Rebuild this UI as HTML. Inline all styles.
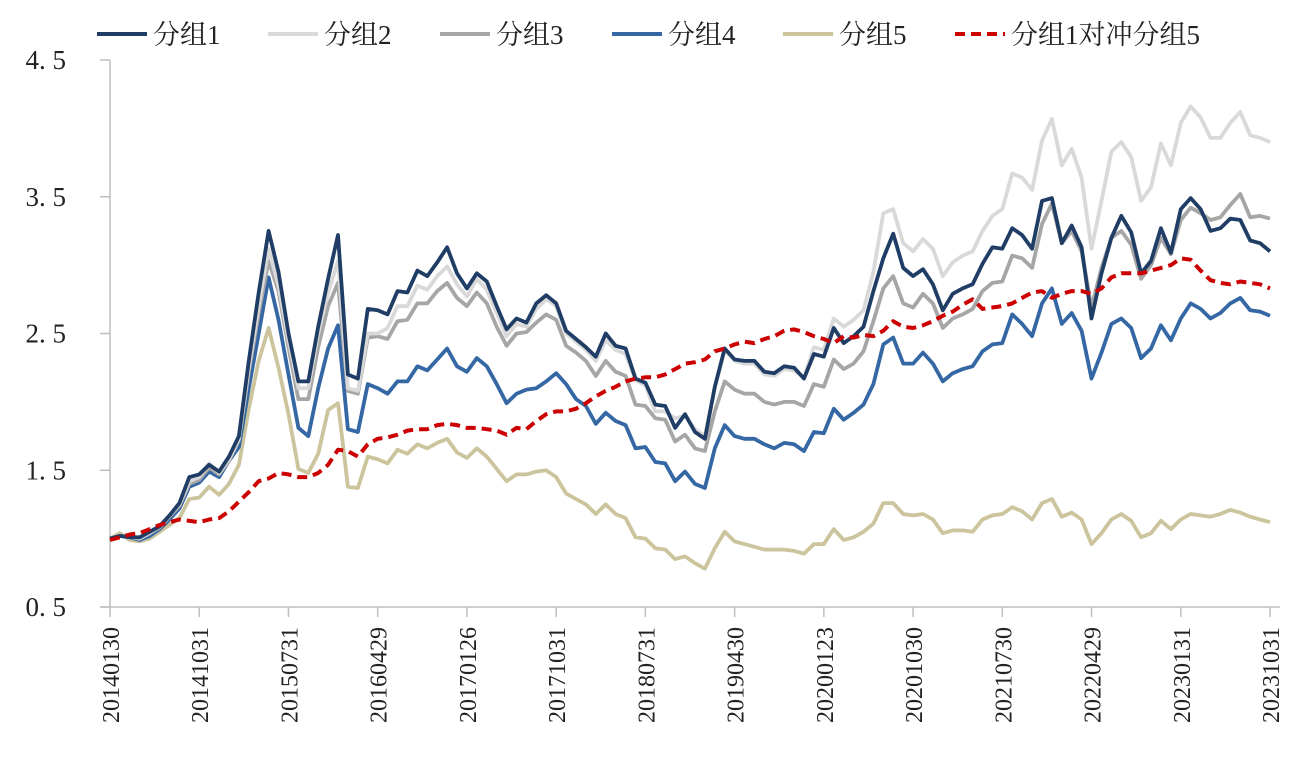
<!DOCTYPE html>
<html><head><meta charset="utf-8"><style>
body{margin:0;background:#fff;}
svg{display:block;font-family:"Liberation Serif","Noto Serif CJK SC",serif;}
</style></head><body>
<svg id="chart" width="1308" height="771" viewBox="0 0 1308 771">
<g id="legend"></g>
<g id="axes"></g>
<g id="series"></g>
</svg>
<script>
const yTicks=[0.5,1.5,2.5,3.5,4.5];
const yTickLabels=["0. 5","1. 5","2. 5","3. 5","4. 5"];
const xTickIdx=[0,9,18,27,36,45,54,63,72,81,90,99,108,117];
const xTickLabels=["20140130","20141031","20150731","20160429","20170126","20171031","20180731","20190430","20200123","20201030","20210730","20220429","20230131","20231031"];
const seriesNames=["分组1","分组2","分组3","分组4","分组5","分组1对冲分组5"];
const g1=[1.00,1.02,1.01,1.01,1.05,1.09,1.17,1.26,1.45,1.47,1.54,1.49,1.60,1.75,2.30,2.80,3.25,2.95,2.50,2.15,2.15,2.55,2.90,3.22,2.20,2.17,2.68,2.67,2.64,2.81,2.80,2.96,2.92,3.02,3.13,2.94,2.83,2.94,2.88,2.70,2.53,2.61,2.58,2.72,2.78,2.72,2.52,2.46,2.40,2.33,2.50,2.41,2.39,2.17,2.14,1.98,1.97,1.81,1.91,1.78,1.73,2.11,2.39,2.31,2.30,2.30,2.22,2.21,2.26,2.25,2.17,2.35,2.33,2.54,2.43,2.48,2.55,2.81,3.05,3.23,2.98,2.92,2.97,2.86,2.67,2.79,2.83,2.86,3.01,3.13,3.12,3.27,3.22,3.12,3.47,3.49,3.16,3.29,3.13,2.61,2.94,3.20,3.36,3.24,2.94,3.03,3.27,3.09,3.41,3.49,3.41,3.25,3.27,3.34,3.33,3.18,3.16,3.10];
const g2=[1.00,1.02,1.01,1.00,1.04,1.09,1.17,1.25,1.42,1.45,1.55,1.48,1.58,1.73,2.25,2.70,3.12,2.85,2.45,2.10,2.10,2.50,2.80,3.03,2.10,2.08,2.50,2.50,2.54,2.70,2.70,2.85,2.82,2.92,2.99,2.86,2.77,2.90,2.82,2.65,2.48,2.57,2.55,2.68,2.75,2.70,2.50,2.44,2.38,2.30,2.45,2.38,2.35,2.16,2.12,1.93,1.93,1.88,1.90,1.80,1.75,2.10,2.38,2.30,2.28,2.28,2.20,2.19,2.24,2.23,2.18,2.40,2.38,2.61,2.55,2.60,2.67,2.95,3.38,3.41,3.16,3.10,3.19,3.12,2.92,3.02,3.07,3.10,3.25,3.36,3.41,3.67,3.64,3.55,3.91,4.07,3.73,3.85,3.64,3.12,3.47,3.83,3.90,3.79,3.47,3.57,3.89,3.73,4.04,4.16,4.08,3.93,3.93,4.04,4.12,3.95,3.93,3.90];
const g3=[1.00,1.02,1.01,1.00,1.04,1.08,1.16,1.24,1.40,1.43,1.52,1.47,1.57,1.72,2.22,2.65,3.03,2.81,2.40,2.02,2.02,2.40,2.70,2.87,2.08,2.06,2.47,2.48,2.46,2.59,2.60,2.72,2.72,2.81,2.87,2.76,2.70,2.80,2.72,2.55,2.41,2.50,2.51,2.58,2.64,2.60,2.41,2.36,2.30,2.19,2.30,2.22,2.19,1.98,1.97,1.88,1.87,1.71,1.76,1.66,1.64,1.93,2.15,2.09,2.06,2.06,2.00,1.98,2.00,2.00,1.97,2.13,2.11,2.31,2.24,2.28,2.37,2.59,2.83,2.92,2.72,2.69,2.79,2.72,2.54,2.61,2.64,2.68,2.81,2.87,2.88,3.07,3.05,2.98,3.30,3.45,3.16,3.25,3.10,2.69,2.98,3.20,3.25,3.15,2.90,3.00,3.20,3.08,3.33,3.42,3.38,3.33,3.35,3.44,3.52,3.35,3.36,3.34];
const g4=[1.00,1.02,1.01,0.99,1.02,1.07,1.14,1.22,1.38,1.41,1.49,1.45,1.57,1.67,2.10,2.50,2.91,2.60,2.20,1.81,1.75,2.10,2.39,2.56,1.80,1.78,2.13,2.10,2.06,2.15,2.15,2.26,2.23,2.31,2.39,2.26,2.22,2.32,2.26,2.13,1.99,2.06,2.09,2.10,2.15,2.21,2.13,2.02,1.97,1.84,1.92,1.86,1.83,1.66,1.67,1.56,1.55,1.42,1.49,1.40,1.37,1.66,1.83,1.75,1.73,1.73,1.69,1.66,1.70,1.69,1.64,1.78,1.77,1.95,1.87,1.92,1.98,2.13,2.42,2.47,2.28,2.28,2.36,2.28,2.15,2.21,2.24,2.26,2.37,2.42,2.43,2.64,2.57,2.48,2.72,2.83,2.57,2.65,2.52,2.17,2.36,2.57,2.61,2.54,2.32,2.39,2.56,2.45,2.61,2.72,2.68,2.61,2.65,2.72,2.76,2.67,2.66,2.63];
const g5=[1.00,1.04,0.99,0.98,1.00,1.05,1.10,1.15,1.29,1.30,1.38,1.32,1.40,1.54,1.95,2.30,2.54,2.25,1.91,1.51,1.48,1.62,1.94,1.99,1.38,1.37,1.60,1.58,1.55,1.65,1.62,1.69,1.66,1.70,1.73,1.63,1.59,1.66,1.60,1.51,1.42,1.47,1.47,1.49,1.50,1.45,1.33,1.29,1.25,1.18,1.25,1.18,1.15,1.01,1.00,0.93,0.92,0.85,0.87,0.82,0.78,0.93,1.05,0.98,0.96,0.94,0.92,0.92,0.92,0.91,0.89,0.96,0.96,1.07,0.99,1.01,1.05,1.11,1.26,1.26,1.18,1.17,1.18,1.14,1.04,1.06,1.06,1.05,1.14,1.17,1.18,1.23,1.20,1.14,1.26,1.29,1.16,1.19,1.14,0.96,1.04,1.14,1.18,1.13,1.01,1.04,1.13,1.07,1.14,1.18,1.17,1.16,1.18,1.21,1.19,1.16,1.14,1.12];
const hedge=[0.99,1.01,1.03,1.04,1.07,1.10,1.12,1.14,1.13,1.12,1.14,1.15,1.20,1.27,1.34,1.42,1.44,1.48,1.47,1.45,1.45,1.48,1.54,1.65,1.64,1.60,1.69,1.73,1.74,1.76,1.79,1.80,1.80,1.83,1.84,1.83,1.81,1.81,1.80,1.79,1.76,1.81,1.80,1.86,1.91,1.93,1.93,1.95,1.99,2.04,2.08,2.11,2.15,2.17,2.18,2.18,2.20,2.24,2.28,2.29,2.31,2.37,2.39,2.42,2.44,2.43,2.46,2.48,2.52,2.53,2.51,2.48,2.46,2.43,2.48,2.47,2.49,2.48,2.52,2.59,2.55,2.54,2.56,2.59,2.63,2.66,2.71,2.75,2.68,2.69,2.70,2.72,2.76,2.80,2.81,2.76,2.79,2.81,2.81,2.79,2.83,2.91,2.94,2.94,2.94,2.96,2.98,3.00,3.05,3.04,2.96,2.89,2.87,2.86,2.88,2.87,2.86,2.83];

const NS="http://www.w3.org/2000/svg";
const X0=113,X1=1273,Y0=607,Y1=60,VMIN=0.5,VMAX=4.5,N=118;
function xs(i){return X0+(X1-X0)*i/(N-1);}
function ys(v){return Y0-(v-VMIN)/(VMAX-VMIN)*(Y0-Y1);}
function mk(tag,attrs,parent){const e=document.createElementNS(NS,tag);for(const k in attrs)e.setAttribute(k,attrs[k]);parent.appendChild(e);return e;}
const axes=document.getElementById('axes');
let e=mk('line',{x1:110,y1:Y1,x2:110,y2:Y0,stroke:'#bfbfbf','stroke-width':1.5},axes);


e=mk('line',{x1:100,y1:Y0,x2:1280,y2:Y0,stroke:'#bfbfbf','stroke-width':1.5},axes);


yTicks.forEach((v,k)=>{
  const t=mk('line',{x1:100,y1:ys(v),x2:110,y2:ys(v),stroke:'#bfbfbf','stroke-width':1.5},axes);
  
  
  const l=mk('text',{x:66,y:ys(v)+9,'text-anchor':'end','font-size':27,fill:'#222'},axes);
  l.textContent=yTickLabels[k];
  
  
});
xTickIdx.forEach((ix,k)=>{
  const x=xs(ix)-3;
  const t=mk('line',{x1:x,y1:Y0,x2:x,y2:Y0+10,stroke:'#bfbfbf','stroke-width':1.5},axes);
  
  
  const l=mk('text',{x:0,y:0,'text-anchor':'end','font-size':24,fill:'#222',transform:`translate(${x+9},627) rotate(-90)`},axes);
  l.textContent=xTickLabels[k];
  
  
});
const seriesData=[g1,g2,g3,g4,g5,hedge];
const colors=['#203d66','#d9d9d9','#a6a6a6','#3467a3','#cbc49c','#cc0000'];
const drawOrder=[4,3,2,1,0,5];
const sg=document.getElementById('series');
drawOrder.forEach(s=>{
  const d=seriesData[s].map((v,i)=>(i?'L':'M')+(xs(i)-3).toFixed(1)+','+ys(v).toFixed(1)).join('');
  const p=mk('path',{d:d,fill:'none',stroke:colors[s],'stroke-width':s===5?4:3.8,'stroke-linejoin':'round'},sg);
  if(s===5)p.setAttribute('stroke-dasharray','10,6');
  
  
});
const lg=document.getElementById('legend');
const lx=[97,268,440,612,783,955];
seriesNames.forEach((n,s)=>{
  const ln=mk('line',{x1:lx[s],y1:34,x2:lx[s]+50,y2:34,stroke:colors[s],'stroke-width':4},lg);
  if(s===5)ln.setAttribute('stroke-dasharray','10,6');
  
  
  const t=mk('text',{x:lx[s]+56,y:44,'font-size':27,fill:'#222'},lg);
  t.textContent=n;
  
  
});
</script>
</body></html>
